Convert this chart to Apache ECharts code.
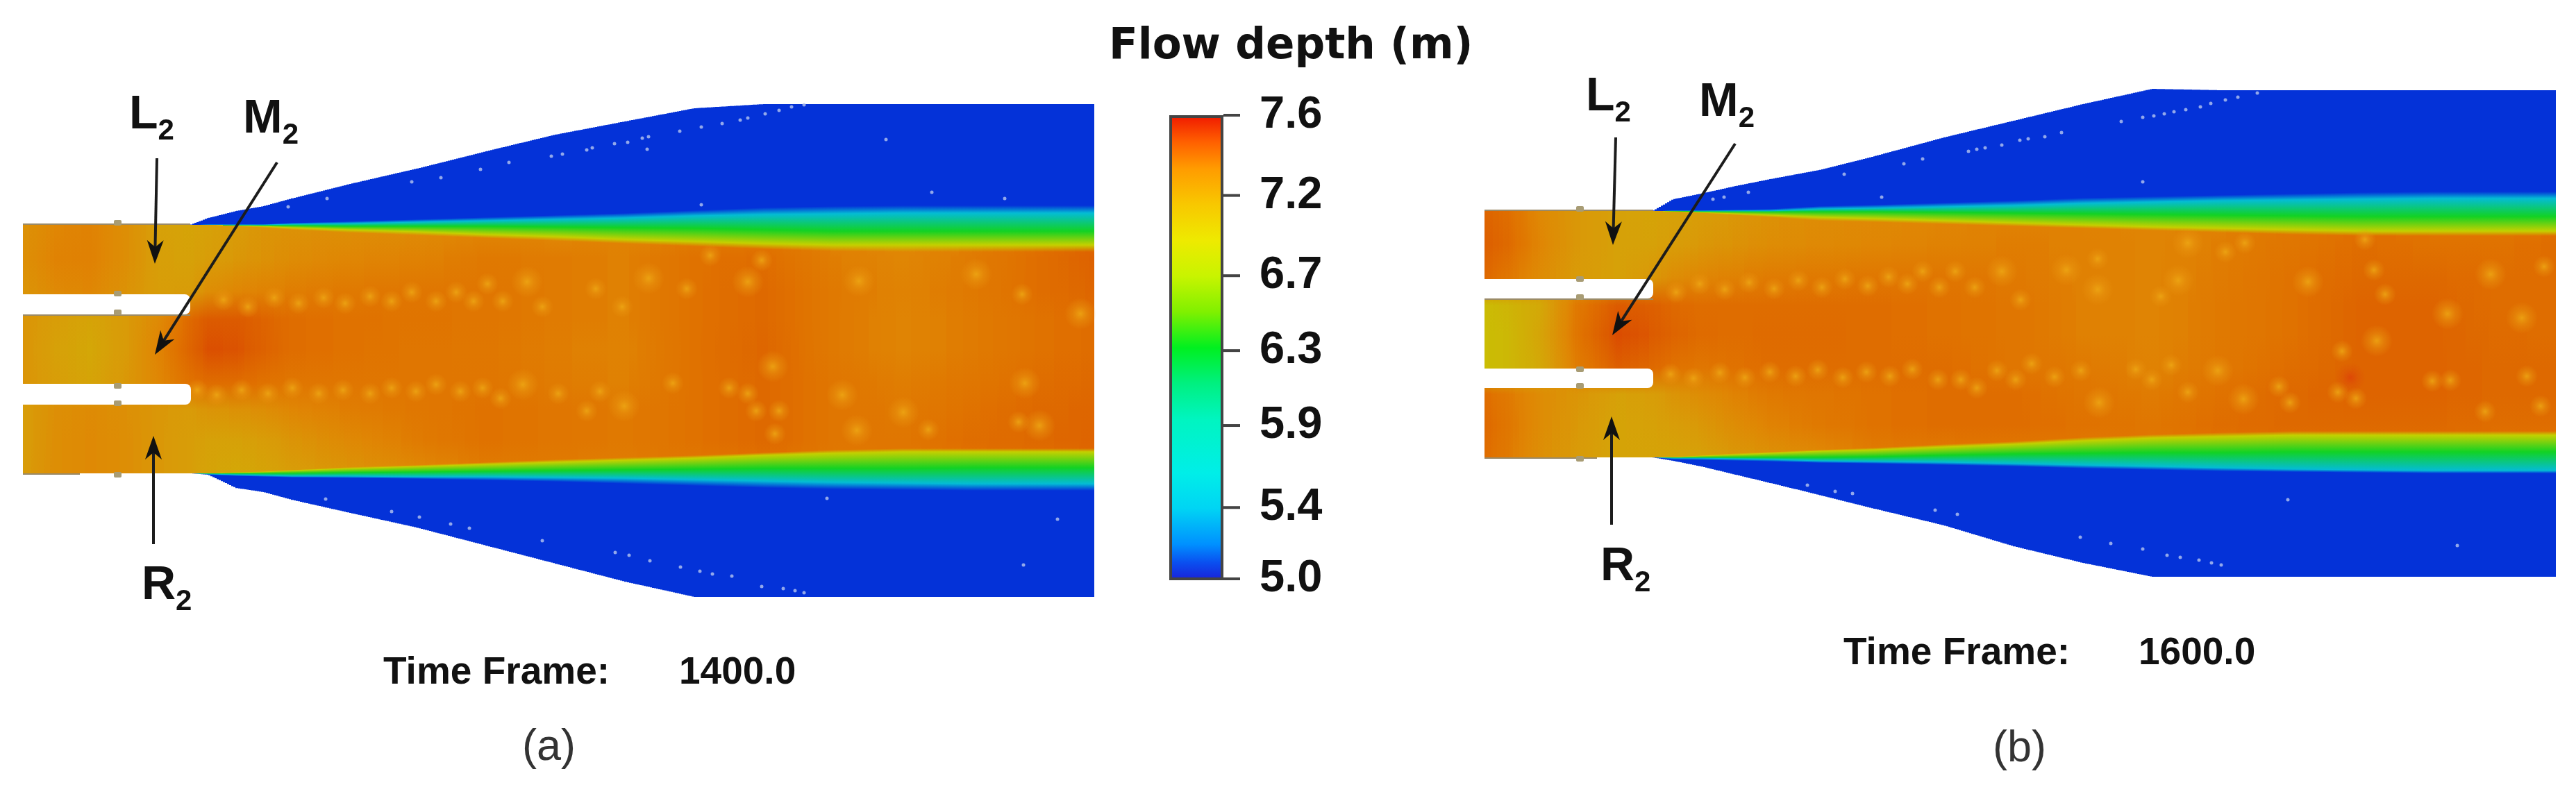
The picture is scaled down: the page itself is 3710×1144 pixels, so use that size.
<!DOCTYPE html>
<html>
<head>
<meta charset="utf-8">
<title>Flow depth</title>
<script src="https://cdn.jsdelivr.net/npm/echarts@6/dist/echarts.min.js"></script>
<style>
  html, body { margin: 0; padding: 0; background: #fff; }
  #chart { width: 3710px; height: 1144px; }
</style>
</head>
<body>
<div id="chart"></div>
<script>
// colour scale
const barDepths = [5.0, 5.1, 5.2, 5.4, 5.6, 5.9, 6.1, 6.3, 6.5, 6.7, 6.9, 7.1, 7.3, 7.45, 7.6];
const barColors = ['#1a20d8', '#0a50f0', '#0090ff', '#00d4f4', '#00eee8', '#00f5c0', '#00f080', '#00f020', '#80f000', '#c8f400', '#eeea00', '#f8c800', '#ff9c00', '#ff6000', '#f01800'];
const tickDepths = [5.0, 5.4, 5.86, 6.28, 6.7, 7.15, 7.6];
const tickLabels = ['5.0', '5.4', '5.9', '6.3', '6.7', '7.2', '7.6'];
// the simulation frames are duller than the colour bar
const fieldDepths = [5.0, 5.15, 5.45, 5.9, 6.3, 6.7, 6.85, 7.0, 7.15, 7.3, 7.4, 7.5, 7.6];
const fieldColors = ['#0432d8', '#0468dc', '#04bcd4', '#04d89c', '#12d224', '#a4d808', '#c4d000', '#ceb406', '#d89c08', '#e08604', '#e07200', '#dc5a00', '#d83404'];
const contourDepths = [5.45, 6.3, 6.85];

// frame (a), 1400.0
const xA = [33, 80, 130, 180, 230, 274, 300, 340, 380, 420, 500, 600, 700, 800, 900, 1000, 1100, 1200, 1300, 1400, 1500, 1576];
const topA = [324, 324, 324, 324, 324, 324, 314, 304, 297, 286, 266, 243, 218, 194, 175, 156, 150, 150, 150, 150, 150, 150];
const blueEndA = [324, 324, 324, 324, 324, 324, 323, 323, 323, 321, 319, 316, 313, 310, 307, 303, 299, 297, 296, 296, 296, 296];
const cyanA = [324, 324, 324, 324, 324, 324, 324, 324, 324, 323, 322, 320, 318, 316, 314, 311, 309, 308, 307, 307, 307, 307];
const greenA = [324, 324, 324, 324, 324, 324, 324, 325, 325, 325, 326, 326, 326, 327, 328, 329, 331, 333, 333, 333, 333, 333];
const yellowA = [324, 324, 324, 324, 324, 324, 324, 325, 326, 328, 331, 334, 338, 341, 345, 348, 351, 353, 353, 353, 353, 353];
const coreTopA = [324, 324, 324, 324, 324, 324, 324, 326, 328, 331, 335, 339, 343, 347, 351, 355, 359, 362, 363, 363, 363, 363];
const coreBotA = [682, 682, 682, 682, 682, 682, 682, 680, 679, 677, 673, 670, 666, 662, 659, 656, 652, 648, 646, 646, 646, 646];
const yellowLowA = [682, 682, 682, 682, 682, 682, 682, 681, 680, 678, 675, 672, 669, 666, 663, 660, 656, 653, 651, 651, 651, 651];
const greenLowA = [682, 682, 682, 682, 682, 682, 682, 682, 682, 682, 681, 680, 679, 678, 677, 676, 675, 675, 675, 674, 674, 674];
const cyanLowA = [682, 682, 682, 682, 682, 682, 683, 684, 685, 686, 686, 687, 687, 688, 689, 691, 693, 695, 696, 697, 697, 697];
const blueEndLowA = [682, 682, 682, 682, 682, 682, 684, 686, 687, 688, 689, 690, 692, 694, 697, 700, 703, 705, 706, 707, 707, 707];
const botA = [682, 682, 682, 682, 682, 682, 684, 703, 709, 720, 738, 760, 786, 812, 838, 860, 860, 860, 860, 860, 860, 860];
const rowYA = [324, 372, 420, 460, 503, 552, 590, 635, 682];
const rowsA = [
  [7.22, 7.30, 7.32, 7.25, 7.12, 7.10, 7.12, 7.15, 7.20, 7.22, 7.24, 7.26, 7.30, 7.28, 7.30, 7.32, 7.36, 7.30, 7.28, 7.32, 7.38, 7.44],
  [7.24, 7.32, 7.33, 7.25, 7.13, 7.12, 7.14, 7.18, 7.22, 7.26, 7.30, 7.32, 7.36, 7.35, 7.33, 7.40, 7.42, 7.34, 7.30, 7.35, 7.42, 7.47],
  [7.20, 7.28, 7.30, 7.22, 7.14, 7.15, 7.25, 7.30, 7.32, 7.34, 7.36, 7.38, 7.38, 7.35, 7.33, 7.40, 7.44, 7.36, 7.32, 7.36, 7.42, 7.45],
  [7.20, 7.14, 7.10, 7.16, 7.28, 7.44, 7.50, 7.50, 7.46, 7.42, 7.40, 7.39, 7.38, 7.35, 7.33, 7.40, 7.44, 7.36, 7.31, 7.35, 7.40, 7.42],
  [7.20, 7.12, 7.08, 7.16, 7.32, 7.46, 7.53, 7.52, 7.47, 7.42, 7.40, 7.38, 7.37, 7.34, 7.32, 7.40, 7.45, 7.36, 7.31, 7.35, 7.40, 7.42],
  [7.20, 7.14, 7.10, 7.18, 7.30, 7.40, 7.42, 7.42, 7.40, 7.38, 7.38, 7.38, 7.38, 7.35, 7.33, 7.40, 7.44, 7.38, 7.34, 7.38, 7.42, 7.44],
  [7.14, 7.24, 7.27, 7.24, 7.18, 7.16, 7.20, 7.22, 7.25, 7.30, 7.34, 7.37, 7.40, 7.38, 7.36, 7.40, 7.44, 7.38, 7.36, 7.40, 7.44, 7.45],
  [7.14, 7.25, 7.28, 7.25, 7.18, 7.14, 7.12, 7.12, 7.14, 7.20, 7.28, 7.35, 7.40, 7.38, 7.36, 7.40, 7.44, 7.38, 7.38, 7.42, 7.44, 7.46],
  [7.15, 7.25, 7.28, 7.25, 7.18, 7.14, 7.10, 7.08, 7.10, 7.14, 7.20, 7.28, 7.34, 7.34, 7.34, 7.36, 7.38, 7.36, 7.36, 7.38, 7.40, 7.42]
];
// x, y, 1 small / 2 large
const spotsA = [
  [322, 432, 1], [357, 442, 1], [395, 429, 1], [430, 437, 1], [466, 429, 1], [497, 437, 1], [533, 427, 1], [564, 434, 1], [593, 421, 1], [628, 434, 1],
  [657, 421, 1], [682, 434, 1], [702, 409, 1], [724, 434, 1], [759, 406, 2], [781, 442, 1], [858, 416, 1], [896, 442, 1], [934, 401, 2], [989, 416, 1],
  [284, 562, 1], [312, 569, 1], [348, 562, 1], [386, 567, 1], [421, 559, 1], [459, 567, 1], [494, 562, 1], [533, 567, 1], [564, 559, 1], [599, 564, 1],
  [628, 554, 1], [663, 564, 1], [695, 559, 1], [721, 574, 1], [753, 554, 2], [804, 567, 1], [845, 592, 1], [864, 564, 1], [899, 585, 2], [969, 552, 1],
  [1023, 368, 1], [1097, 375, 1], [1077, 406, 2], [1237, 405, 2], [1406, 395, 2], [1472, 424, 1], [1556, 452, 2], [1113, 528, 2], [1050, 559, 1], [1077, 567, 1],
  [1089, 592, 1], [1122, 592, 1], [1116, 625, 1], [1213, 569, 2], [1234, 620, 2], [1301, 594, 2], [1337, 619, 1], [1476, 552, 2], [1497, 613, 2], [1467, 608, 1]
];
const specksA = [
  [415, 298], [471, 286], [593, 262], [635, 256], [692, 244], [733, 234], [794, 225], [810, 222], [845, 216], [853, 213], [885, 207], [904, 205], [925, 199], [934, 197], [932, 215], [979, 189],
  [1276, 201], [1342, 277], [1447, 286], [1010, 295], [1040, 178], [1010, 183], [1066, 173], [1077, 170], [1102, 164], [1122, 159], [1140, 154], [1158, 151],
  [469, 719], [564, 737], [604, 745], [649, 755], [676, 761], [781, 779], [886, 796], [906, 800], [936, 808], [980, 817],
  [1191, 718], [1523, 748], [1474, 814], [1008, 823], [1026, 827], [1054, 830], [1097, 845], [1128, 848], [1145, 851], [1158, 854]
];
const slitsA = [[33, 274, 424, 453], [33, 275, 553, 583]];
const edgesA = [[33, 274, 454], [33, 115, 683], [33, 274, 323]];
const nubsA = [[169, 321], [169, 423], [169, 450], [169, 556], [169, 581], [169, 684]];
const arrowsA = [[226, 228, 223, 380], [399, 234, 223, 511], [221, 784, 221, 628]];

// frame (b), 1600.0
const xB = [2138, 2170, 2220, 2270, 2330, 2380, 2410, 2450, 2500, 2550, 2620, 2700, 2800, 2900, 3000, 3100, 3200, 3300, 3400, 3500, 3600, 3681];
const topB = [304, 304, 304, 304, 304, 304, 287, 279, 268, 258, 245, 225, 198, 174, 150, 128, 130, 130, 130, 130, 130, 130];
const blueEndB = [304, 304, 304, 304, 304, 304, 303, 303, 302, 301, 297, 295, 292, 289, 285, 283, 281, 279, 277, 276, 276, 276];
const cyanB = [304, 304, 304, 304, 304, 304, 304, 304, 304, 304, 301, 300, 298, 296, 293, 291, 289, 288, 287, 286, 286, 286];
const greenB = [304, 304, 304, 304, 304, 304, 304, 305, 305, 305, 305, 305, 306, 307, 308, 309, 310, 311, 312, 312, 312, 312];
const yellowB = [304, 304, 304, 304, 304, 304, 305, 306, 308, 310, 313, 315, 318, 321, 324, 327, 329, 331, 333, 333, 333, 333];
const coreTopB = [304, 304, 304, 304, 304, 304, 305, 307, 310, 313, 318, 320, 323, 326, 329, 332, 335, 338, 340, 340, 340, 340];
const coreBotB = [659, 659, 659, 659, 659, 659, 658, 656, 653, 651, 648, 645, 640, 636, 630, 626, 623, 621, 621, 621, 621, 621];
const yellowLowB = [659, 659, 659, 659, 659, 659, 659, 657, 655, 653, 650, 648, 644, 640, 635, 631, 629, 627, 627, 627, 627, 627];
const greenLowB = [659, 659, 659, 659, 659, 659, 659, 659, 659, 659, 659, 658, 656, 654, 653, 652, 652, 651, 651, 651, 651, 651];
const cyanLowB = [659, 659, 659, 659, 659, 659, 660, 660, 661, 662, 664, 665, 666, 668, 670, 672, 674, 676, 677, 678, 678, 678];
const blueEndLowB = [659, 659, 659, 659, 659, 659, 662, 663, 664, 665, 667, 668, 670, 672, 675, 677, 679, 680, 681, 682, 682, 682];
const botB = [659, 659, 659, 659, 659, 659, 664, 672, 684, 696, 713, 733, 757, 787, 811, 831, 831, 831, 831, 831, 831, 831];
const rowYB = [304, 352, 400, 440, 482, 530, 568, 612, 659];
const rowsB = [
  [7.46, 7.42, 7.28, 7.18, 7.12, 7.10, 7.12, 7.14, 7.18, 7.22, 7.26, 7.28, 7.30, 7.32, 7.32, 7.30, 7.32, 7.36, 7.40, 7.38, 7.36, 7.38],
  [7.48, 7.44, 7.30, 7.18, 7.12, 7.12, 7.14, 7.18, 7.22, 7.26, 7.28, 7.30, 7.32, 7.34, 7.33, 7.31, 7.34, 7.38, 7.42, 7.40, 7.40, 7.42],
  [7.44, 7.38, 7.26, 7.16, 7.12, 7.18, 7.26, 7.30, 7.33, 7.35, 7.36, 7.37, 7.38, 7.36, 7.33, 7.31, 7.35, 7.40, 7.44, 7.44, 7.42, 7.42],
  [6.96, 7.00, 7.08, 7.36, 7.50, 7.48, 7.44, 7.42, 7.42, 7.42, 7.42, 7.42, 7.40, 7.38, 7.33, 7.31, 7.36, 7.40, 7.46, 7.46, 7.42, 7.42],
  [6.95, 6.98, 7.10, 7.38, 7.54, 7.50, 7.46, 7.43, 7.42, 7.43, 7.43, 7.42, 7.40, 7.38, 7.33, 7.31, 7.36, 7.40, 7.46, 7.46, 7.43, 7.42],
  [6.95, 6.98, 7.08, 7.34, 7.48, 7.44, 7.40, 7.38, 7.40, 7.42, 7.42, 7.42, 7.42, 7.38, 7.36, 7.32, 7.37, 7.42, 7.46, 7.46, 7.44, 7.44],
  [7.42, 7.36, 7.26, 7.20, 7.12, 7.14, 7.20, 7.26, 7.32, 7.36, 7.38, 7.40, 7.42, 7.42, 7.38, 7.35, 7.40, 7.44, 7.46, 7.46, 7.44, 7.44],
  [7.44, 7.38, 7.26, 7.18, 7.10, 7.12, 7.14, 7.18, 7.26, 7.32, 7.36, 7.40, 7.42, 7.42, 7.40, 7.38, 7.42, 7.44, 7.44, 7.44, 7.42, 7.42],
  [7.42, 7.36, 7.24, 7.16, 7.10, 7.10, 7.10, 7.12, 7.18, 7.22, 7.28, 7.34, 7.36, 7.36, 7.36, 7.36, 7.38, 7.40, 7.40, 7.40, 7.38, 7.38]
];
const spotsB = [
  [2414, 421, 1], [2448, 409, 1], [2484, 417, 1], [2519, 407, 1], [2555, 416, 1], [2590, 404, 1], [2624, 414, 1], [2657, 402, 1], [2690, 412, 1], [2720, 399, 1],
  [2747, 409, 1], [2769, 391, 1], [2793, 414, 1], [2816, 391, 1], [2844, 414, 1], [2883, 391, 2],
  [2406, 539, 1], [2439, 545, 1], [2477, 537, 1], [2513, 544, 1], [2549, 536, 1], [2586, 542, 1], [2618, 533, 1], [2654, 544, 1], [2688, 536, 1], [2722, 542, 1],
  [2754, 532, 1], [2791, 547, 1], [2824, 547, 1], [2847, 559, 1], [2876, 534, 1],
  [2976, 389, 2], [3021, 417, 2], [3021, 373, 1], [2910, 432, 1], [3151, 350, 2], [3205, 363, 1], [3233, 350, 1], [3137, 404, 2], [3112, 427, 1], [3324, 406, 2],
  [3406, 345, 1], [3419, 389, 1], [3435, 424, 1], [3587, 395, 2], [3664, 384, 1], [3525, 452, 2], [3632, 458, 2], [3423, 491, 2], [3373, 506, 1],
  [2926, 524, 1], [2903, 547, 1], [2959, 543, 1], [2997, 534, 1], [3023, 580, 2], [3076, 532, 1], [3099, 547, 1], [3127, 526, 1], [3194, 534, 2], [3151, 565, 1],
  [3231, 575, 2], [3282, 557, 1], [3298, 580, 1], [3393, 574, 1], [3367, 565, 1], [3503, 549, 1], [3529, 548, 1], [3639, 542, 1], [3579, 593, 1], [3659, 585, 1]
];
const hotSpotsB = [[3385, 544]];
const specksB = [
  [2467, 287], [2483, 284], [2518, 277], [2656, 251], [2710, 284], [2742, 236], [2769, 229], [2835, 218], [2847, 215], [2859, 213], [2883, 209],
  [2909, 202], [2921, 200], [2945, 197], [2969, 191], [3055, 175], [3086, 169], [3102, 167], [3117, 164], [3131, 161], [3148, 158], [3169, 154], [3184, 149], [3205, 144], [3223, 140], [3251, 134], [3086, 262],
  [2603, 699], [2643, 708], [2668, 711], [2787, 735], [2819, 741], [2996, 774], [3040, 783], [3086, 791], [3121, 800], [3140, 803], [3167, 807], [3185, 811], [3199, 814], [3295, 720], [3539, 786]
];
const slitsB = [[2138, 2381, 402, 430], [2138, 2381, 531, 559]];
const edgesB = [[2138, 2381, 431], [2138, 2300, 660], [2138, 2381, 303]];
const nubsB = [[2275, 301], [2275, 402], [2275, 428], [2275, 532], [2275, 556], [2275, 661]];
const arrowsB = [[2327, 198, 2323, 353], [2499, 207, 2322, 483], [2321, 756, 2321, 600]];

const FONT = '"Liberation Sans", Arial, sans-serif';
const STRIP = 3;

const colorCache = {};
const fieldColor = (depth) => {
  const key = depth.toFixed(2);
  if (colorCache[key]) return colorCache[key];
  let i = 0;
  while (i < fieldDepths.length - 2 && depth > fieldDepths[i + 1]) i += 1;
  const t = Math.min(1, Math.max(0, (depth - fieldDepths[i]) / (fieldDepths[i + 1] - fieldDepths[i])));
  colorCache[key] = echarts.color.lerp(t, [fieldColors[i], fieldColors[i + 1]]);
  return colorCache[key];
};

// one data item per station, painted as thin columns up to the next station
const renderField = (p) => (params, api) => {
  const i = params.dataIndex;
  if (i >= p.xs.length - 1) return null;
  const x0 = api.coord([p.xs[i], 0])[0];
  const x1 = api.coord([p.xs[i + 1], 0])[0];
  const children = [];
  for (let px = x0; px < x1; px += STRIP) {
    const t = (px + STRIP / 2 - x0) / (x1 - x0);
    const at = (arr) => arr[i] + (arr[i + 1] - arr[i]) * t;
    const top = at(p.top);
    const bot = at(p.bot);
    const coreTop = at(p.coreTop);
    const coreBot = at(p.coreBot);
    const row = p.rows.map(at);
    const coreAt = (y) => {
      let j = 0;
      while (j < p.rowY.length - 2 && y > p.rowY[j + 1]) j += 1;
      const f = (y - p.rowY[j]) / (p.rowY[j + 1] - p.rowY[j]);
      return row[j] + (row[j + 1] - row[j]) * Math.min(1, Math.max(0, f));
    };
    const stops = [
      [top, 5.0], [at(p.blueEnd), 5.0], [at(p.cyan), contourDepths[0]], [at(p.green), contourDepths[1]], [at(p.yellow), contourDepths[2]],
      [coreTop, coreAt(coreTop)]
    ];
    p.rowY.forEach((y, j) => {
      if (y > coreTop && y < coreBot) stops.push([y, row[j]]);
    });
    stops.push(
      [coreBot, coreAt(coreBot)], [at(p.yellowLow), contourDepths[2]], [at(p.greenLow), contourDepths[1]], [at(p.cyanLow), contourDepths[0]],
      [at(p.blueEndLow), 5.0], [bot, 5.0]
    );
    const yTop = api.coord([p.xs[i], top])[1];
    const yBot = api.coord([p.xs[i], bot])[1];
    children.push({
      type: 'rect',
      shape: { x: px, y: yTop, width: Math.min(STRIP, x1 - px), height: yBot - yTop },
      style: {
        fill: new echarts.graphic.LinearGradient(0, 0, 0, 1, stops.map((s) => ({
          offset: Math.min(1, Math.max(0, (s[0] - top) / (bot - top))),
          color: fieldColor(s[1])
        })))
      }
    });
  }
  return { type: 'group', children, silent: true };
};

const renderSlit = (params, api) => {
  const a = api.coord([api.value(0), api.value(2)]);
  const b = api.coord([api.value(1), api.value(3)]);
  return { type: 'rect', shape: { x: a[0], y: a[1], width: b[0] - a[0], height: b[1] - a[1], r: [0, 8, 8, 0] }, style: { fill: '#fff' } };
};

const renderEdge = (params, api) => {
  const a = api.coord([api.value(0), api.value(2)]);
  const b = api.coord([api.value(1), api.value(2)]);
  return { type: 'line', shape: { x1: a[0], y1: a[1], x2: b[0], y2: b[1] }, style: { stroke: '#9a8a68', lineWidth: 2 } };
};

const renderNub = (params, api) => {
  const a = api.coord([api.value(0), api.value(1)]);
  return { type: 'rect', shape: { x: a[0] - 5, y: a[1] - 4, width: 11, height: 8, r: 2 }, style: { fill: '#a89c74' } };
};

const renderArrow = (params, api) => {
  const a = api.coord([api.value(0), api.value(1)]);
  const b = api.coord([api.value(2), api.value(3)]);
  const len = Math.hypot(b[0] - a[0], b[1] - a[1]);
  const ux = (b[0] - a[0]) / len;
  const uy = (b[1] - a[1]) / len;
  const pt = (along, side) => [b[0] - ux * along - uy * side, b[1] - uy * along + ux * side];
  return {
    type: 'group',
    children: [
      { type: 'line', shape: { x1: a[0], y1: a[1], x2: pt(12, 0)[0], y2: pt(12, 0)[1] }, style: { stroke: '#1c1c1c', lineWidth: 4 } },
      { type: 'polygon', shape: { points: [pt(0, 0), pt(34, 12), pt(24, 0), pt(34, -12)] }, style: { fill: '#111' } }
    ]
  };
};

// tick marks beside the colour bar
const renderBarTick = (params, api) => {
  const p = api.coord([0, api.value(0)]);
  const right = api.coord([0, api.value(0)])[0] + api.size([1, 0])[0] / 2;
  return { type: 'line', shape: { x1: right, y1: p[1], x2: right + 24, y2: p[1] }, style: { stroke: '#444', lineWidth: 4 } };
};

const glow = (peak, tail) => ({
  type: 'radial', x: 0.5, y: 0.5, r: 0.5,
  colorStops: [
    { offset: 0, color: peak },
    { offset: 0.5, color: tail.replace('ALPHA', '0.42') },
    { offset: 1, color: tail.replace('ALPHA', '0') }
  ]
});

const panelSeries = (idx, p) => {
  const axes = { xAxisIndex: idx, yAxisIndex: idx };
  const list = [
    { type: 'custom', ...axes, z: 1, silent: true, renderItem: renderField(p), encode: { x: 0 }, data: p.xs.map((x) => [x]) },
    {
      type: 'scatter', ...axes, z: 2, silent: true,
      symbolSize: (d) => (d[2] === 2 ? 46 : 32),
      itemStyle: { color: glow('rgba(238,168,20,0.85)', 'rgba(234,152,16,ALPHA)'), opacity: 1 },
      data: p.spots
    },
    {
      type: 'scatter', ...axes, z: 3, silent: true, symbolSize: 5,
      itemStyle: { color: '#b6c6f0' },
      data: p.specks
    },
    { type: 'custom', ...axes, z: 4, silent: true, renderItem: renderEdge, encode: { x: [0, 1], y: 2 }, data: p.edges },
    { type: 'custom', ...axes, z: 5, silent: true, renderItem: renderSlit, encode: { x: [0, 1], y: [2, 3] }, data: p.slits },
    { type: 'custom', ...axes, z: 6, silent: true, renderItem: renderNub, encode: { x: 0, y: 1 }, data: p.nubs },
    { type: 'custom', ...axes, z: 7, silent: true, renderItem: renderArrow, encode: { x: [0, 2], y: [1, 3] }, data: p.arrows }
  ];
  if (p.hot) {
    list.push({
      type: 'scatter', ...axes, z: 2, silent: true, symbolSize: 44,
      itemStyle: { color: glow('rgba(222,62,8,0.95)', 'rgba(220,70,8,ALPHA)') },
      data: p.hot
    });
  }
  return list;
};

const text = (left, top, str, fontSize, fontWeight, extra = {}) => ({
  type: 'text', x: left, y: top, silent: true, ...extra,
  style: { text: str, font: `${fontWeight} ${fontSize}px ${FONT}`, fill: '#111', align: 'left', verticalAlign: 'middle', ...(extra.style || {}) }
});

// name with a lowered 2, kept as one string
const stationLabel = (left, top, name) => ({
  type: 'text', x: left, y: top, silent: true,
  style: {
    text: `{m|${name}}{s|2}`,
    align: 'left', verticalAlign: 'top', fill: '#111',
    rich: {
      m: { fontFamily: FONT, fontWeight: 'bold', fontSize: 68, fill: '#111', verticalAlign: 'top', lineHeight: 58 },
      s: { fontFamily: FONT, fontWeight: 'bold', fontSize: 42, fill: '#111', verticalAlign: 'bottom', lineHeight: 78 }
    }
  }
});

const hiddenValue = (min, max, extra = {}) => ({ type: 'value', min, max, show: false, ...extra });

const option = {
  animation: false,
  backgroundColor: '#fff',
  grid: [
    { left: 0, top: 100, width: 1640, height: 800 },
    { left: 2100, top: 80, width: 1610, height: 800 },
    { left: 1684, top: 166, width: 78, height: 668 }
  ],
  xAxis: [
    hiddenValue(0, 1640, { gridIndex: 0 }),
    hiddenValue(2100, 3710, { gridIndex: 1 }),
    { gridIndex: 2, type: 'category', data: ['Flow depth'], show: false }
  ],
  yAxis: [
    hiddenValue(100, 900, { gridIndex: 0, inverse: true }),
    hiddenValue(80, 880, { gridIndex: 1, inverse: true }),
    {
      gridIndex: 2,
      type: 'value',
      min: 5,
      max: 7.6,
      position: 'right',
      axisLine: { show: false },
      splitLine: { show: false },
      axisTick: { show: false },
      axisLabel: {
        show: true,
        margin: 52,
        customValues: tickDepths,
        color: '#111',
        fontFamily: FONT,
        fontWeight: 'bold',
        fontSize: 65,
        formatter: (value) => tickLabels[tickDepths.indexOf(value)]
      }
    }
  ],
  series: [
    ...panelSeries(0, {
      xs: xA, top: topA, blueEnd: blueEndA, cyan: cyanA, green: greenA, yellow: yellowA, coreTop: coreTopA,
      coreBot: coreBotA, yellowLow: yellowLowA, greenLow: greenLowA, cyanLow: cyanLowA, blueEndLow: blueEndLowA, bot: botA,
      rowY: rowYA, rows: rowsA, spots: spotsA, specks: specksA, slits: slitsA, edges: edgesA, nubs: nubsA, arrows: arrowsA
    }),
    ...panelSeries(1, {
      xs: xB, top: topB, blueEnd: blueEndB, cyan: cyanB, green: greenB, yellow: yellowB, coreTop: coreTopB,
      coreBot: coreBotB, yellowLow: yellowLowB, greenLow: greenLowB, cyanLow: cyanLowB, blueEndLow: blueEndLowB, bot: botB,
      rowY: rowYB, rows: rowsB, spots: spotsB, specks: specksB, slits: slitsB, edges: edgesB, nubs: nubsB, arrows: arrowsB, hot: hotSpotsB
    }),
    {
      type: 'bar',
      xAxisIndex: 2,
      yAxisIndex: 2,
      silent: true,
      barWidth: '100%',
      data: [7.6],
      itemStyle: {
        borderColor: '#444',
        borderWidth: 4,
        color: new echarts.graphic.LinearGradient(0, 1, 0, 0, barDepths.map((d, i) => ({
          offset: (d - 5) / 2.6,
          color: barColors[i]
        })))
      }
    },
    {
      type: 'custom',
      xAxisIndex: 2,
      yAxisIndex: 2,
      silent: true,
      z: 3,
      renderItem: renderBarTick,
      encode: { y: 0 },
      data: tickDepths.map((d) => [d])
    }
  ],
  graphic: [
    text(1597, 68, 'Flow depth (m)', 62, 'bold', { scaleX: 0.985, style: { font: `bold 62px "DejaVu Sans", ${FONT}` } }),
    stationLabel(186, 132, 'L'),
    stationLabel(350, 138, 'M'),
    stationLabel(204, 810, 'R'),
    stationLabel(2284, 106, 'L'),
    stationLabel(2447, 114, 'M'),
    stationLabel(2305, 783, 'R'),
    text(552, 970, 'Time Frame:', 55, 'bold'),
    text(978, 970, '1400.0', 55, 'bold'),
    text(752, 1078, '(a)', 63, 'normal', { style: { fill: '#333' } }),
    text(2655, 942, 'Time Frame:', 55, 'bold'),
    text(3080, 942, '1600.0', 55, 'bold'),
    text(2870, 1080, '(b)', 63, 'normal', { style: { fill: '#333' } })
  ]
};

const chart = echarts.init(document.getElementById('chart'), null, { renderer: 'canvas' });
chart.setOption(option);
</script>
</body>
</html>
